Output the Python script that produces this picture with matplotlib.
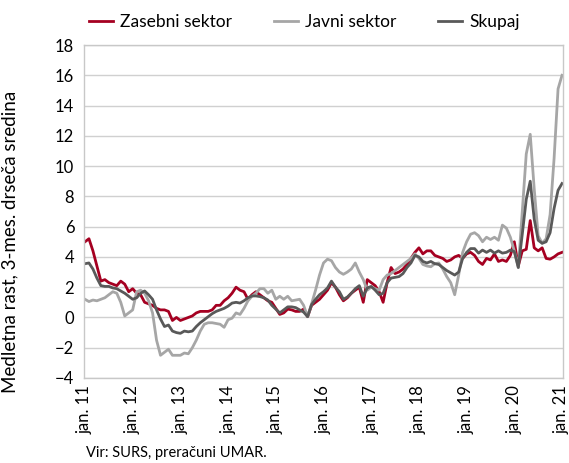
import matplotlib
matplotlib.use('Agg')
import matplotlib.pyplot as plt
import numpy as np

plt.rcParams['font.family'] = ['Lato', 'DejaVu Sans']

# monthly, jan 2011 - jan 2021
zasebni = [5.0, 5.2, 4.4, 3.4, 2.4, 2.5, 2.3, 2.2, 2.1, 2.4, 2.2, 1.7,
           1.9, 1.6, 1.5, 1.0, 0.9, 0.8, 0.6, 0.5, 0.5, 0.4, -0.2, 0.0,
           -0.2, -0.1, 0.0, 0.1, 0.3, 0.4, 0.4, 0.4, 0.5, 0.8, 0.8, 1.1,
           1.3, 1.6, 2.0, 1.8, 1.7, 1.2, 1.5, 1.7, 1.5, 1.3, 1.1, 1.0,
           0.6, 0.2, 0.3, 0.55, 0.5, 0.4, 0.4, 0.55, 0.05, 0.8, 1.0, 1.2,
           1.5, 1.8, 2.3, 2.0, 1.5, 1.1, 1.3, 1.6, 1.8, 2.0, 1.0, 2.5,
           2.3, 2.1, 1.7, 1.0, 2.3, 3.3, 2.9, 3.0, 3.2, 3.5, 3.9, 4.3,
           4.6, 4.2, 4.4, 4.4, 4.1, 4.0, 3.9, 3.7, 3.8, 4.0, 4.1, 3.9,
           4.2, 4.3, 4.1, 3.7, 3.5, 3.9, 3.8, 4.2, 3.7, 3.8, 3.7, 4.1,
           5.0, 3.4, 4.4, 4.5, 6.4, 4.6, 4.4, 4.6, 3.9, 3.85, 4.0, 4.2,
           4.3]
javni = [1.2, 1.05, 1.15, 1.1, 1.2, 1.3, 1.5, 1.7, 1.6, 1.0, 0.1, 0.3,
         0.5, 1.7, 1.8, 1.6, 1.1, 0.3, -1.5, -2.5, -2.3, -2.1, -2.5, -2.5,
         -2.5, -2.35, -2.4, -2.0, -1.5, -0.9, -0.45, -0.35, -0.35, -0.4, -0.45, -0.65,
         -0.15, -0.05, 0.3, 0.2, 0.6, 1.1, 1.4, 1.6, 1.9, 1.9, 1.6, 1.8,
         1.2, 1.4, 1.2, 1.4, 1.1, 1.15, 1.2, 0.8, 0.05, 0.9, 1.8, 2.8,
         3.6, 3.85, 3.75, 3.3, 3.0, 2.85, 3.0, 3.2, 3.6, 3.0, 2.5, 1.8,
         2.0, 1.9, 1.8, 2.5, 2.8, 2.9, 3.1, 3.3, 3.5, 3.7, 3.9, 4.2,
         3.9, 3.5, 3.4, 3.35, 3.55, 3.6, 3.2, 2.7, 2.3, 1.5, 2.8, 4.3,
         5.0, 5.5, 5.6, 5.4, 5.0, 5.3, 5.15, 5.3, 5.1, 6.1, 5.9, 5.3,
         4.4, 3.3, 7.0, 10.8, 12.1, 8.5, 5.4, 4.9, 5.2, 6.8, 10.5, 15.1,
         16.0]
skupaj = [3.55, 3.6, 3.2, 2.6, 2.1, 2.05, 2.05, 1.95, 1.9, 1.75, 1.6, 1.4,
          1.2, 1.3, 1.6, 1.75, 1.5, 1.2, 0.5, -0.1, -0.6, -0.5, -0.9, -1.0,
          -1.05, -0.9, -0.95, -0.9, -0.6, -0.35, -0.15, 0.05, 0.25, 0.4, 0.5, 0.6,
          0.75, 0.95, 1.0, 0.95, 1.1, 1.3, 1.42, 1.42, 1.38, 1.3, 1.15, 0.8,
          0.55, 0.3, 0.5, 0.7, 0.7, 0.65, 0.5, 0.35, 0.05, 0.85, 1.2, 1.5,
          1.7, 1.95, 2.4, 2.0, 1.7, 1.2, 1.35, 1.6, 1.9, 2.1, 1.4, 1.95,
          2.05, 1.8, 1.5, 1.6, 2.3, 2.6, 2.65, 2.7, 2.9, 3.3, 3.6, 4.1,
          4.0, 3.7, 3.6, 3.7, 3.55, 3.5, 3.3, 3.1, 2.95, 2.8, 3.0, 3.9,
          4.3, 4.55, 4.55, 4.25, 4.45, 4.3, 4.45, 4.25, 4.4, 4.25, 4.3, 4.45,
          4.35, 3.3, 5.5, 7.8, 9.0, 6.5, 5.1, 4.9, 5.0, 5.6, 7.2, 8.4,
          8.85]
tick_labels = ['jan. 11', 'jan. 12', 'jan. 13', 'jan. 14', 'jan. 15', 'jan. 16',
               'jan. 17', 'jan. 18', 'jan. 19', 'jan. 20', 'jan. 21']

x = np.arange(len(zasebni))

fig = plt.figure(figsize=(5.69, 4.63), dpi=100)
ax = fig.add_axes([0.1476, 0.1836, 0.8419, 0.7192])

ax.plot(x, zasebni, color='#A50021', lw=2.0, label='Zasebni sektor', solid_joinstyle='round')
ax.plot(x, javni, color='#A6A6A6', lw=2.0, label='Javni sektor', solid_joinstyle='round')
ax.plot(x, skupaj, color='#595959', lw=2.0, label='Skupaj', solid_joinstyle='round')

ax.set_xlim(-0.25, 120.25)
ax.set_ylim(-4, 18)
ax.set_yticks(np.arange(-4, 19, 2))
ax.set_xticks(np.arange(0, 121, 12))
ax.set_xticklabels(tick_labels, rotation=90, fontsize=12)
ax.tick_params(axis='both', length=0, labelsize=12, colors='black')
ax.tick_params(axis='y', pad=7)
ax.tick_params(axis='x', pad=5)
ax.grid(axis='y', color='#D0D0D0', lw=1.0)
ax.set_axisbelow(True)
for s in ax.spines.values():
    s.set_color('#C8C8C8')
    s.set_linewidth(1.0)

ax.set_ylabel('Medletna rast, 3-mes. drseča sredina', fontsize=13.5)
ax.yaxis.set_label_coords(-0.138, 0.41)

ax.legend(loc='lower center', bbox_to_anchor=(0.46, 1.02), ncol=3, frameon=False,
          fontsize=12.5, handlelength=1.4, handletextpad=0.4, columnspacing=2.4,
          borderaxespad=0.1)

fig.text(0.152, 0.014, 'Vir: SURS, preračuni UMAR.', fontsize=10.5)

fig.savefig('out.png', dpi=100)
